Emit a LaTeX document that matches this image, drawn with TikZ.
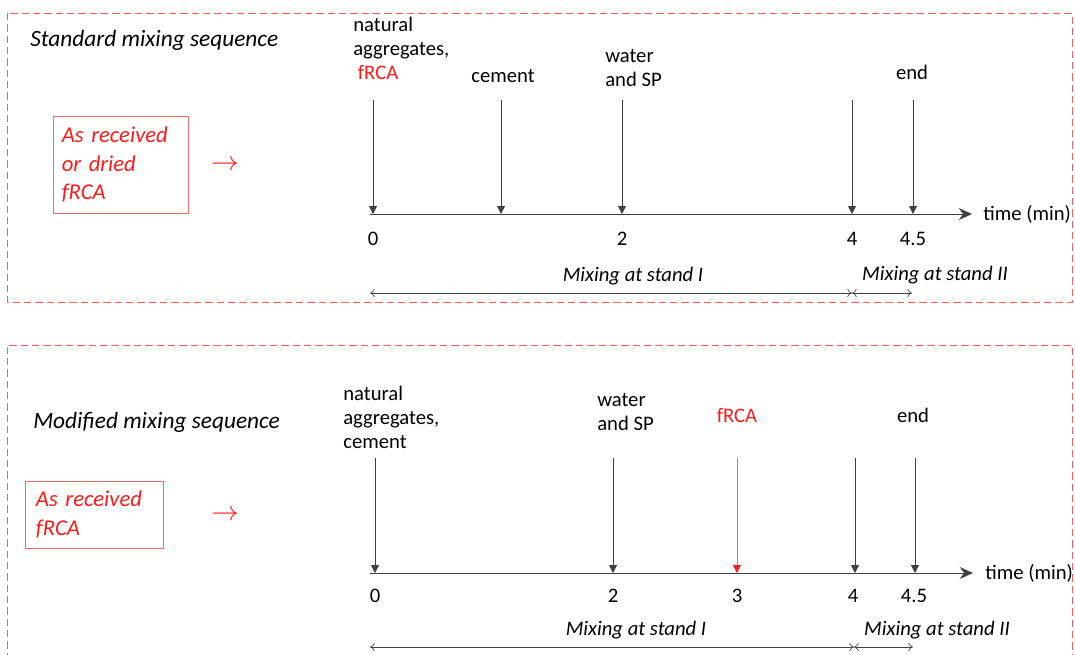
\documentclass[tikz,border=0pt]{standalone}
\usepackage{fontspec}
\setmainfont{Carlito}
\usetikzlibrary{arrows.meta}
\definecolor{framered}{HTML}{FF5C5C}
\definecolor{boxred}{HTML}{F26B6B}
\definecolor{txtred}{HTML}{FF1A1A}
\definecolor{linegray}{HTML}{404040}
\tikzset{
	lbl/.style={inner sep=0pt, align=left, font=\fontsize{15.5}{18}\selectfont},
	ttl/.style={inner sep=0pt, font=\fontsize{17.5}{18}\selectfont\itshape},
	span lbl/.style={inner sep=0pt, font=\fontsize{15.5}{18}\selectfont\itshape},
	frame/.style={framered, dash pattern=on 5.5pt off 3pt, line width=0.7pt},
	recv/.style={draw=boxred, line width=0.7pt, text=txtred, align=left, inner xsep=0pt,
		font=\fontsize{17}{21.5}\selectfont\itshape},
	pointer/.style={inner sep=0pt, text=txtred, font=\fontsize{20}{24}\selectfont},
	drop/.style={linegray, line width=0.6pt, -{Triangle[length=6pt,width=6pt]}},
	axis/.style={linegray, line width=0.6pt, -{Stealth[length=10pt,width=9pt,inset=3.5pt]}},
	span/.style={linegray, line width=0.5pt, {To[length=3.5pt,width=6pt]}-{To[length=3.5pt,width=6pt]}}
}
\begin{document}
\begin{tikzpicture}[x=0.75pt,y=-0.75pt]
	\useasboundingbox (0,0) rectangle (1075,654);

	% standard mixing sequence
	\draw[frame] (7,13) rectangle (1072,302);
	\node[ttl, anchor=base west] (std) at (30,46) {Standard mixing sequence};
	\node[recv, minimum width=101.25pt, minimum height=72.75pt, text width=88pt] (dry) at (120.5,164.5)
		{As received\\or dried\\fRCA};
	\node[pointer] (toa) at (225,165) {$\rightarrow$};
	\coordinate (oa) at (370,214);
	\coordinate (ea) at (972,214);
	\draw[axis] (oa) -- (ea);
	\node[lbl, anchor=base west] (tima) at (983,220) {time (min)};
	\foreach \x/\n in {373/0,501/1,622/2,852/3,913/4} {
		\coordinate (ta\n) at (\x,100);
		\coordinate (ba\n) at (\x,214);
		\draw[drop] (ta\n) -- (ba\n);
	}
	\node[lbl, anchor=base west] (nata) at (353,79) {natural\\aggregates,\\\hspace*{3.5pt}\textcolor{txtred}{fRCA}};
	\node[lbl, anchor=base] (cema) at (503,82) {cement};
	\node[lbl, anchor=base west] (wata) at (605,86) {water\\and SP};
	\node[lbl, anchor=base] (enda) at (912,79) {end};
	\foreach \x/\t in {373/0,622/2,852/4,913/4.5}
		\node[lbl, anchor=base] at (\x,245) {\t};
	\node[span lbl, anchor=base] (sia) at (633,281) {Mixing at stand I};
	\node[span lbl, anchor=base] (siia) at (935,280) {Mixing at stand II};
	\coordinate (la) at (370,293);
	\coordinate (ma) at (852,293);
	\coordinate (ra) at (912,293);
	\draw[span] (la) -- (ma);
	\draw[span] (ma) -- (ra);

	% modified mixing sequence
	\draw[frame] (7,660) -- (7,345) -- (1072,345) -- (1072,660);
	\node[ttl, anchor=base west] (mod) at (33,428) {Modified mixing sequence};
	\node[recv, minimum width=103.5pt, minimum height=50.25pt, text width=87pt] (asr) at (94,514.5)
		{As received\\fRCA};
	\node[pointer] (tob) at (225,515) {$\rightarrow$};
	\coordinate (ob) at (370,573);
	\coordinate (eb) at (973,573);
	\draw[axis] (ob) -- (eb);
	\node[lbl, anchor=base west] (timb) at (985,579) {time (min)};
	\foreach \x/\n in {375/0,613/1,855/3,915/4} {
		\coordinate (tb\n) at (\x,458);
		\coordinate (bb\n) at (\x,573);
		\draw[drop] (tb\n) -- (bb\n);
	}
	\coordinate (tb2) at (737,458);
	\coordinate (bb2) at (737,573);
	\draw[drop, boxred, -{Triangle[length=6pt,width=6pt,color=txtred]}] (tb2) -- (bb2);
	\node[lbl, anchor=base west] (natb) at (343,448) {natural\\aggregates,\\cement};
	\node[lbl, anchor=base west] (watb) at (597,430) {water\\and SP};
	\node[lbl, anchor=base, text=txtred] (frcb) at (737,422) {fRCA};
	\node[lbl, anchor=base] (endb) at (913,422) {end};
	\foreach \x/\t in {375/0,613/2,737/3,853/4,914/4.5}
		\node[lbl, anchor=base] at (\x,602) {\t};
	\node[span lbl, anchor=base] (sib) at (636,635) {Mixing at stand I};
	\node[span lbl, anchor=base] (siib) at (937,635) {Mixing at stand II};
	\coordinate (lb) at (370,647);
	\coordinate (mb) at (854,647);
	\coordinate (rb) at (913,647);
	\draw[span] (lb) -- (mb);
	\draw[span] (mb) -- (rb);
\end{tikzpicture}
\end{document}
